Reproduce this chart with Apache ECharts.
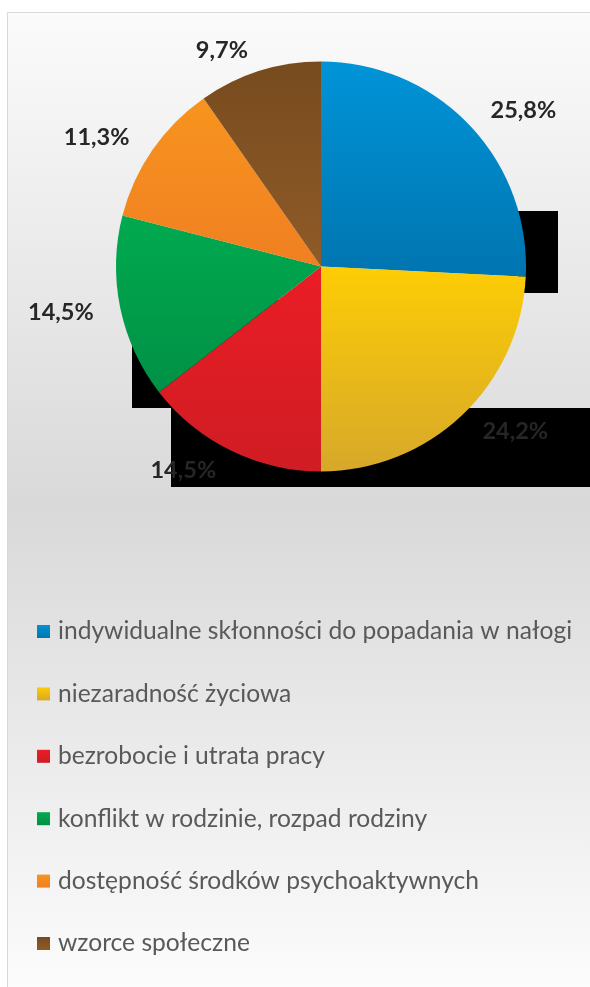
<!DOCTYPE html>
<html><head><meta charset="utf-8">
<script src="https://cdn.jsdelivr.net/npm/echarts@6/dist/echarts.min.js"></script>
<style>html,body{margin:0;padding:0;background:#fff}#c{width:590px;height:987px}</style>
</head><body><div id="c"></div>
<script>
const categories = [
  'indywidualne skłonności do popadania w nałogi',
  'niezaradność życiowa',
  'bezrobocie i utrata pracy',
  'konflikt w rodzinie, rozpad rodziny',
  'dostępność środków psychoaktywnych',
  'wzorce społeczne'
];
const values = [25.8, 24.2, 14.5, 14.5, 11.3, 9.7];
const colorsTop = ['#0094d8', '#fdcd05', '#ea1d25', '#00aa4f', '#f7941e', '#774b1f'];
const colorsBottom = ['#0075b0', '#d7a82a', '#d01c24', '#009146', '#f07f22', '#8f5b27'];

function grad(a, b) {
  return new echarts.graphic.LinearGradient(0, 0, 0, 1, [{offset: 0, color: a}, {offset: 1, color: b}]);
}

const chart = echarts.init(document.getElementById('c'), null, {renderer: 'canvas'});
chart.setOption({
  animation: false,
  graphic: [
    {type: 'rect', z: -10, shape: {x: 7.5, y: 12.5, width: 600, height: 990},
     style: {fill: new echarts.graphic.LinearGradient(0, 0, 0, 1, [
       {offset: 0, color: '#fbfbfb'}, {offset: 0.5, color: '#d9d9d9'}, {offset: 1, color: '#fdfdfd'}]),
       stroke: '#d9d9d9', lineWidth: 1}},
    {type: 'rect', z: -5, shape: {x: 518, y: 211, width: 40, height: 82}, style: {fill: '#000'}},
    {type: 'rect', z: -5, shape: {x: 132, y: 300, width: 200, height: 108}, style: {fill: '#000'}},
    {type: 'rect', z: -5, shape: {x: 171, y: 408, width: 430, height: 79}, style: {fill: '#000'}}
  ],
  legend: {
    orient: 'vertical', left: 32, top: 614,
    icon: 'rect', itemWidth: 13, itemHeight: 13, itemGap: 37.4,
    textStyle: {fontFamily: 'Lato', fontSize: 24.6, color: '#595959', lineHeight: 24, padding: [0, 0, 0, 3]},
    data: categories
  },
  series: [{
    type: 'pie',
    center: [321, 266.5],
    radius: 205,
    startAngle: 90,
    clockwise: true,
    avoidLabelOverlap: false,
    data: categories.map((n, i) => ({
      name: n, value: values[i],
      itemStyle: {color: grad(colorsTop[i], colorsBottom[i])}
    })),
    label: {
      show: true, position: 'outside',
      formatter: p => String(p.value).replace('.', ',') + '%',
      fontFamily: 'Lato', fontWeight: 'bold', fontSize: 23.5, color: '#262626'
    },
    labelLine: {show: false, length: 22, length2: 0},
    emphasis: {disabled: true}
  }]
});
</script></body></html>
